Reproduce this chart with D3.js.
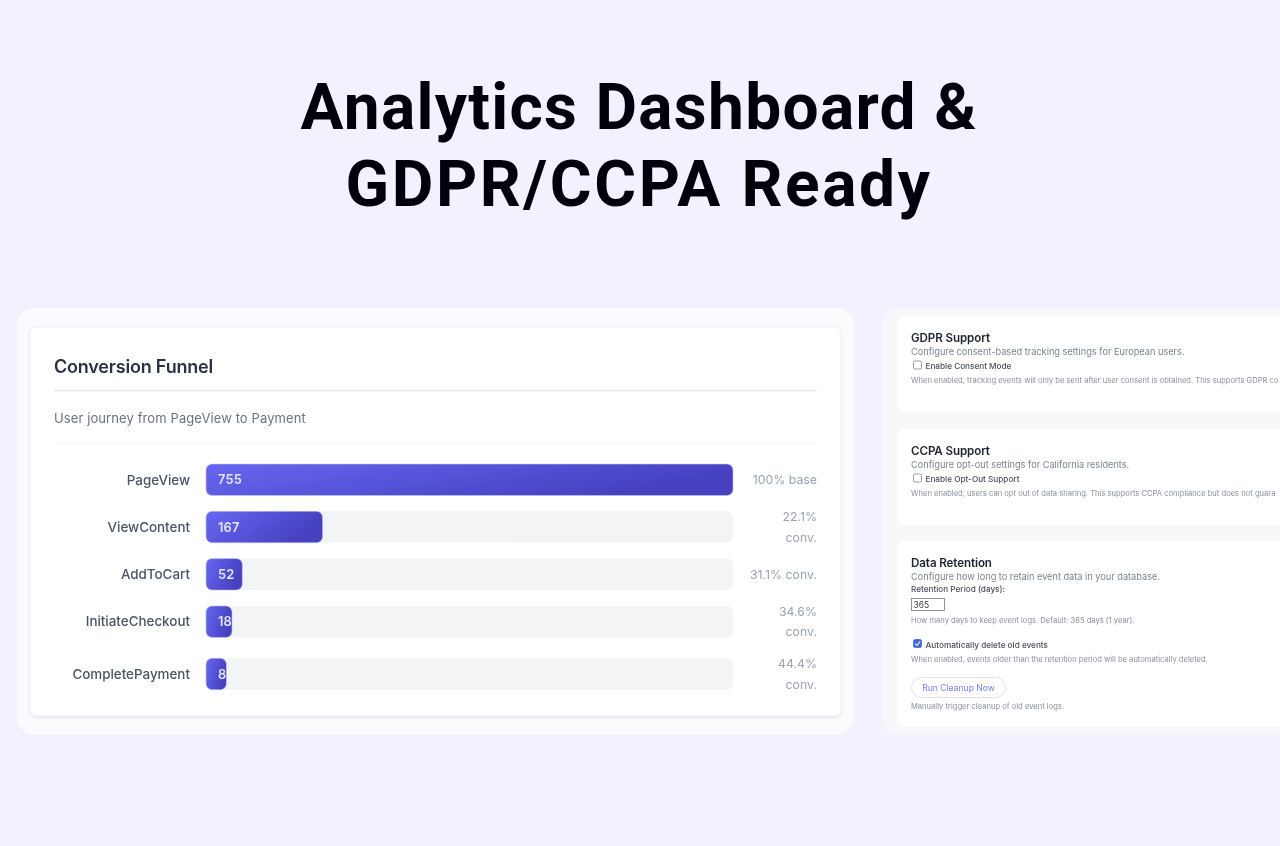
<!DOCTYPE html>
<html><head><meta charset="utf-8">
<style>html,body{margin:0;padding:0;background:#f3f1fe;overflow:hidden}svg{display:block}text{font-family:Inter,"Noto Sans",sans-serif}</style>
<script src="https://cdn.jsdelivr.net/npm/d3@7/dist/d3.min.js"></script></head><body>
<script>
const titleLines = ["Analytics Dashboard &", "GDPR/CCPA Ready"];
const titleTracking = [1.3, 2.6];
const stages = ["PageView", "ViewContent", "AddToCart", "InitiateCheckout", "CompletePayment"];
const counts = [755, 167, 52, 18, 8];
const convLabels = [["100% base"], ["22.1%", "conv."], ["31.1% conv."], ["34.6%", "conv."], ["44.4%", "conv."]];
const settingsCards = [
  {h:"GDPR Support", d:"Configure consent-based tracking settings for European users.", c:"Enable Consent Mode", n:"When enabled, tracking events will only be sent after user consent is obtained. This supports GDPR co"},
  {h:"CCPA Support", d:"Configure opt-out settings for California residents.", c:"Enable Opt-Out Support", n:"When enabled, users can opt out of data sharing. This supports CCPA compliance but does not guara"}
];

const W = 1280, H = 846;
const svg = d3.select("body").append("svg").attr("width", W).attr("height", H).attr("viewBox", `0 0 ${W} ${H}`);
const defs = svg.append("defs");
const grad = (id, x2, y2) => {
  const g = defs.append("linearGradient").attr("id", id).attr("gradientUnits", "objectBoundingBox")
    .attr("x1", 0).attr("y1", 0).attr("x2", x2).attr("y2", y2);
  g.append("stop").attr("offset", "0%").attr("stop-color", "#6667f0");
  g.append("stop").attr("offset", "100%").attr("stop-color", "#4640c0");
};
grad("barGrad", 1, 0.35);
const soft = defs.append("filter").attr("id", "soft").attr("x", "-5%").attr("y", "-5%").attr("width", "110%").attr("height", "110%");
soft.append("feGaussianBlur").attr("stdDeviation", 0.4);
const shadow = defs.append("filter").attr("id", "shadow").attr("x", "-5%").attr("y", "-5%").attr("width", "110%").attr("height", "110%");
shadow.append("feDropShadow").attr("dx", 0).attr("dy", 1).attr("stdDeviation", 1.2).attr("flood-color", "#1f2340").attr("flood-opacity", 0.12);

// Title
svg.append("g").attr("filter", "url(#soft)").selectAll("text").data(titleLines).join("text")
  .attr("x", 639).attr("y", (d, i) => 129 + i * 77)
  .attr("text-anchor", "middle").attr("fill", "#050509")
  .style("font-family", "Roboto,sans-serif").style("font-weight", 700).style("font-size", "64px")
  .style("letter-spacing", (d, i) => titleTracking[i] + "px")
  .text(d => d);

// Left panel
const left = svg.append("g").attr("filter", "url(#soft)");
left.append("rect").attr("x", 17).attr("y", 308).attr("width", 837).attr("height", 427).attr("rx", 18).attr("fill", "#fbfbfe");
left.append("rect").attr("x", 30).attr("y", 327).attr("width", 811).attr("height", 389).attr("rx", 6).attr("fill", "#fff").attr("stroke", "#eef0f4").attr("stroke-width", 1).attr("filter", "url(#shadow)");
left.append("text").attr("x", 54).attr("y", 373).attr("fill", "#2b3140").style("font-size", "18px").style("font-weight", 600).style("letter-spacing", "-0.2px").text("Conversion Funnel");
left.append("line").attr("x1", 54).attr("x2", 817).attr("y1", 390.5).attr("y2", 390.5).attr("stroke", "#e5e7eb").attr("stroke-width", 1.6);
left.append("text").attr("x", 54).attr("y", 423).attr("fill", "#6b7280").style("font-size", "13px").style("letter-spacing", "0.1px").text("User journey from PageView to Payment");
left.append("line").attr("x1", 54).attr("x2", 817).attr("y1", 443.5).attr("y2", 443.5).attr("stroke", "#f3f4f6").attr("stroke-width", 1.2);

// Funnel rows: row height follows the number of lines in the conversion label
const x = d3.scaleLinear().domain([0, d3.max(counts)]).range([0, 527]);
const barH = 31.5, lineH = 20.8, rowGap = 10.75, startY = 464;
let cursor = startY;
const rows = stages.map((s, i) => {
  const h = convLabels[i].length > 1 ? convLabels[i].length * lineH : barH;
  const top = cursor; cursor += h + rowGap;
  return {stage: s, count: counts[i], conv: convLabels[i], cy: top + h / 2};
});
const row = left.append("g").selectAll("g").data(rows).join("g").attr("transform", d => `translate(206,${d.cy})`);
row.append("rect").attr("y", -barH / 2).attr("width", x.range()[1]).attr("height", barH).attr("rx", 6).attr("fill", "#f3f4f6");
row.append("text").attr("x", -16).attr("dy", "0.36em").attr("text-anchor", "end").attr("fill", "#4b5563").style("font-size", "13.4px").style("font-weight", 500).text(d => d.stage);
const fills = row.append("rect").attr("class", "fill").attr("y", -barH / 2).attr("height", barH).attr("rx", 6).attr("fill", "url(#barGrad)").attr("stroke", "#c5c6f6").attr("stroke-width", 0.6);
const vals = row.append("text").attr("x", 12).attr("dy", "0.36em").attr("fill", "#e4e4fb").style("font-size", "12.8px").style("font-weight", 600).style("letter-spacing", "0.2px").text(d => d.count);
fills.attr("width", function (d, i) { return Math.max(x(d.count), 12 + vals.nodes()[i].getComputedTextLength()); });
row.each(function (d) {
  const g = d3.select(this);
  g.selectAll("text.conv").data(d.conv).join("text").attr("class", "conv")
    .attr("x", 611).attr("y", (t, i) => (i - (d.conv.length - 1) / 2) * lineH).attr("dy", "0.36em")
    .attr("text-anchor", "end").attr("fill", "#9ca3af").style("font-size", "12.3px").text(t => t);
});

// Right panel
const right = svg.append("g").attr("filter", "url(#soft)");
right.append("rect").attr("x", 883).attr("y", 308).attr("width", 440).attr("height", 427).attr("rx", 18).attr("fill", "#f8f8fb");
const h3 = (t, y) => right.append("text").attr("x", 911).attr("y", y).attr("fill", "#1f2430").style("font-size", "11.6px").style("font-weight", 600).style("letter-spacing", "-0.1px").text(t);
const sub = (t, y) => right.append("text").attr("x", 911).attr("y", y).attr("fill", "#7d8390").style("font-size", "9.2px").text(t);
const note = (t, y) => right.append("text").attr("x", 911).attr("y", y).attr("fill", "#8b909b").style("font-size", "7.6px").text(t);
const label = (t, y, xp) => right.append("text").attr("x", xp).attr("y", y).attr("fill", "#4a4f5c").style("font-size", "8.2px").style("font-weight", 500).text(t);
const checkbox = (y, on) => {
  right.append("rect").attr("x", 913.5).attr("y", y).attr("width", 8).attr("height", 8).attr("rx", 1.5)
    .attr("fill", on ? "#3f66d8" : "#fff").attr("stroke", on ? "#3f66d8" : "#77797f").attr("stroke-width", 0.7);
  if (on) right.append("path").attr("d", d3.line()([[915.3, y + 4.2], [917, y + 6], [920, y + 2]])).attr("fill", "none").attr("stroke", "#fff").attr("stroke-width", 1.1);
};
const cardTops = [316, 429];
settingsCards.forEach((c, i) => {
  const t = cardTops[i];
  right.append("rect").attr("x", 897).attr("y", t).attr("width", 420).attr("height", 96).attr("rx", 8).attr("fill", "#fff");
  h3(c.h, t + 26); sub(c.d, t + 39);
  checkbox(t + 45, false); label(c.c, t + 52.5, 925.5); note(c.n, t + 67);
});
right.append("rect").attr("x", 897).attr("y", 541).attr("width", 420).attr("height", 186).attr("rx", 8).attr("fill", "#fff");
h3("Data Retention", 567);
sub("Configure how long to retain event data in your database.", 580);
label("Retention Period (days):", 592, 911);
right.append("rect").attr("x", 911.5).attr("y", 598.5).attr("width", 33).attr("height", 12).attr("fill", "#fff").attr("stroke", "#77797f").attr("stroke-width", 0.8);
right.append("text").attr("x", 913.5).attr("y", 608).attr("fill", "#3a3d44").style("font-size", "8.5px").text("365");
note("How many days to keep event logs. Default: 365 days (1 year).", 623);
checkbox(639.5, true);
label("Automatically delete old events", 647.5, 925.5);
note("When enabled, events older than the retention period will be automatically deleted.", 662);
right.append("rect").attr("x", 911.5).attr("y", 677.5).attr("width", 94).attr("height", 20).attr("rx", 10).attr("fill", "#fff").attr("stroke", "#dcdcfb").attr("stroke-width", 0.9);
right.append("text").attr("x", 958.5).attr("y", 690.5).attr("text-anchor", "middle").attr("fill", "#7a7cf5").style("font-size", "8.6px").text("Run Cleanup Now");
note("Manually trigger cleanup of old event logs.", 709);
</script>
</body></html>
